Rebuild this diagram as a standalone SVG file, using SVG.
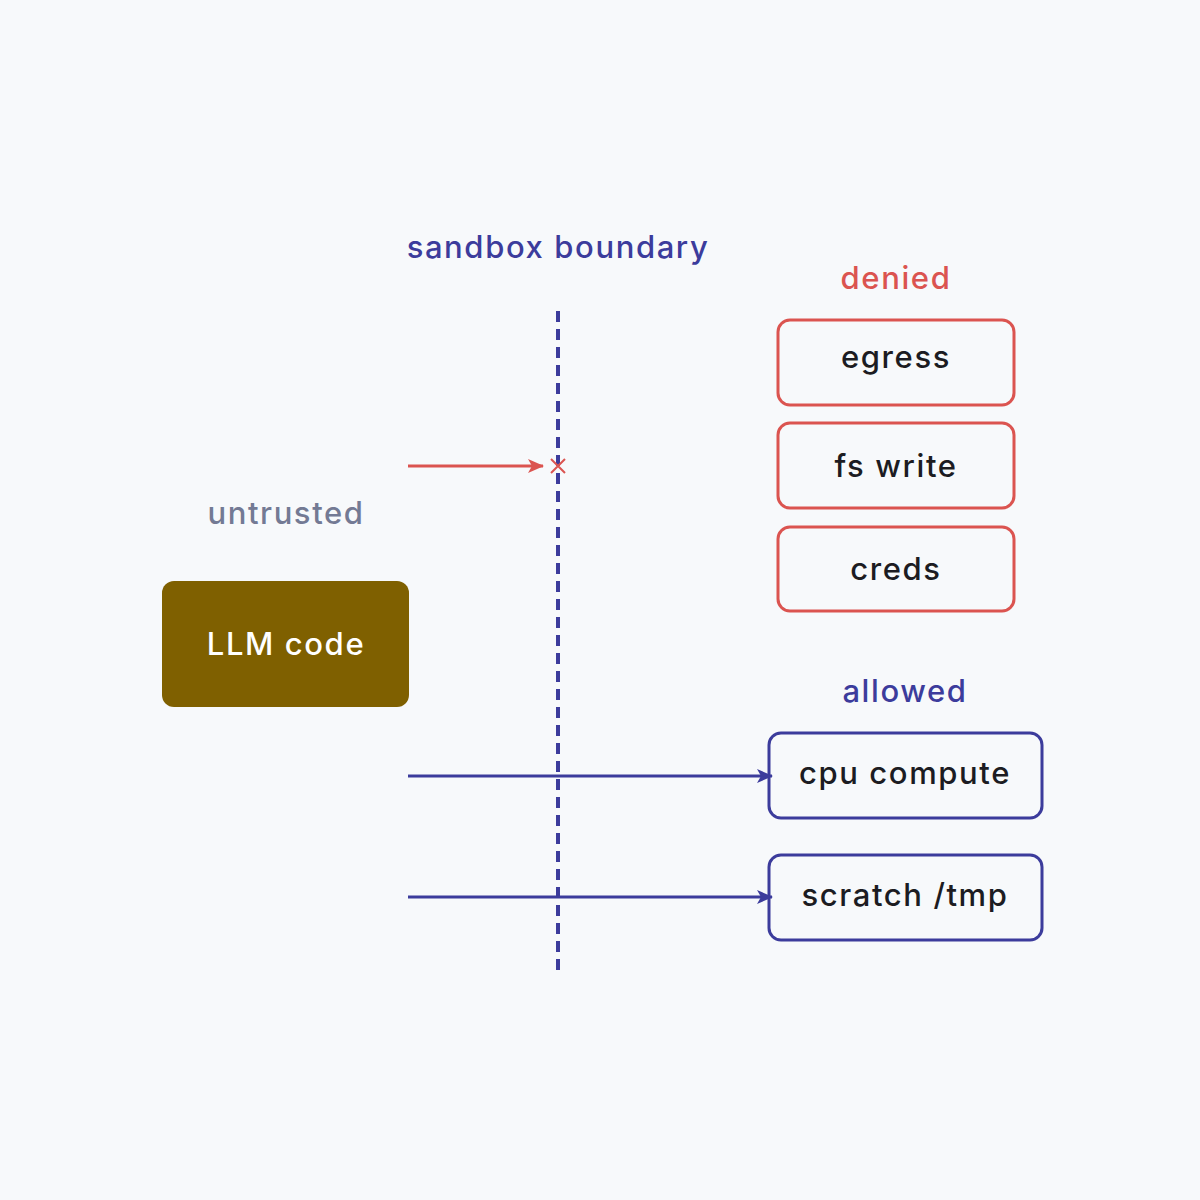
<svg xmlns="http://www.w3.org/2000/svg" width="1200" height="1200" viewBox="0 0 1200 1200">
<defs>
<style>
text{font-family:Inter,"Noto Sans",sans-serif;font-size:31px;font-weight:500;text-anchor:middle;letter-spacing:1.6px}
.lbl{fill:#1c1c22}
.den{fill:none;stroke:#db5450;stroke-width:3}
.alw{fill:none;stroke:#3c3c9c;stroke-width:3}
</style>
<marker id="ar" viewBox="0 0 16 14" refX="15" refY="7" markerWidth="16" markerHeight="14" markerUnits="userSpaceOnUse" orient="auto"><path d="M0,0 L16,7 L0,14 L4,7 Z" fill="#db5450"/></marker>
<marker id="ab" viewBox="0 0 16 14" refX="15" refY="7" markerWidth="16" markerHeight="14" markerUnits="userSpaceOnUse" orient="auto"><path d="M0,0 L16,7 L0,14 L4,7 Z" fill="#3c3c9c"/></marker>
</defs>
<rect width="1200" height="1200" fill="#f7f9fb"/>
<text x="558" y="258" fill="#3c3c9c">sandbox boundary</text>
<text x="896" y="289" fill="#db5450">denied</text>
<text x="286" y="524" fill="#737a94">untrusted</text>
<text x="905" y="702" fill="#3c3c9c">allowed</text>
<g id="connectors">
<line x1="558" y1="311" x2="558" y2="972" stroke="#3c3c9c" stroke-width="4" stroke-dasharray="11 7"/>
<line x1="408" y1="466" x2="543" y2="466" stroke="#db5450" stroke-width="3" marker-end="url(#ar)"/>
<path d="M551,459 L565,473 M565,459 L551,473" stroke="#db5450" stroke-width="2"/>
<line x1="408" y1="776" x2="772" y2="776" stroke="#3c3c9c" stroke-width="3" marker-end="url(#ab)"/>
<line x1="408" y1="897" x2="772" y2="897" stroke="#3c3c9c" stroke-width="3" marker-end="url(#ab)"/>
</g>
<g id="llm"><rect x="162" y="581" width="247" height="126" rx="12" fill="#7f6000"/><text x="286" y="655" fill="#ffffff">LLM code</text></g>
<g id="egress"><rect class="den" x="778" y="320" width="236" height="85" rx="12"/><text class="lbl" x="896" y="368">egress</text></g>
<g id="fswrite"><rect class="den" x="778" y="423" width="236" height="85" rx="12"/><text class="lbl" x="896" y="477">fs write</text></g>
<g id="creds"><rect class="den" x="778" y="527" width="236" height="84" rx="12"/><text class="lbl" x="896" y="580">creds</text></g>
<g id="cpu"><rect class="alw" x="769" y="733" width="273" height="85" rx="12"/><text class="lbl" x="905" y="784">cpu compute</text></g>
<g id="scratch"><rect class="alw" x="769" y="855" width="273" height="85" rx="12"/><text class="lbl" x="905" y="906">scratch /tmp</text></g>
</svg>
